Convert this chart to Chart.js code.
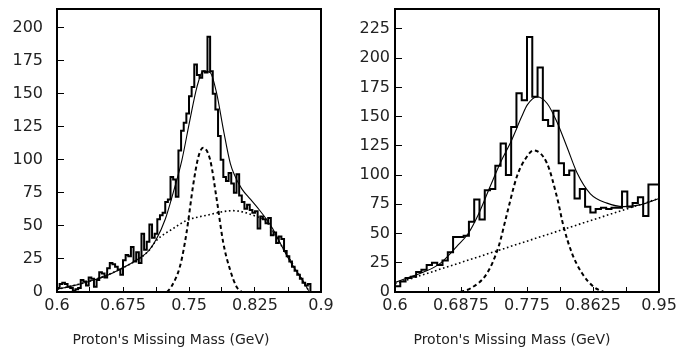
<!DOCTYPE html>
<html>
<head>
<meta charset="utf-8">
<script src="https://cdn.jsdelivr.net/npm/chart.js@4.4.0/dist/chart.umd.min.js"></script>
<style>
  html, body { margin: 0; padding: 0; background: #fff; }
  #wrap { position: relative; width: 694px; height: 351px; overflow: hidden; }
  .panel { position: absolute; top: 0; width: 347px; height: 351px; }
  .xtitle { position: absolute; top: 331px; font: 14px 'DejaVu Sans', sans-serif; color: #222; text-align: center; white-space: nowrap; }
</style>
</head>
<body>
<div id="wrap">
  <div class="panel" style="left:0"><canvas id="left" width="347" height="351"></canvas></div>
  <div class="panel" style="left:347px"><canvas id="right" width="347" height="351"></canvas></div>
  <div class="xtitle" style="left:0;width:342px">Proton's Missing Mass (GeV)</div>
  <div class="xtitle" style="left:347px;width:330px">Proton's Missing Mass (GeV)</div>
</div>
<script>
// ---- left panel data ----
const leftBinStart = 0.6;
const leftBinWidth = 0.003;
const leftCounts = [
  4, 3, 6, 7, 6, 4, 3, 1, 2, 3,
  9, 8, 5, 11, 10, 4, 9, 15, 14, 11,
  18, 22, 21, 19, 17, 13, 24, 28, 27, 34,
  23, 30, 22, 44, 32, 38, 51, 41, 44, 55,
  58, 60, 68, 70, 87, 85, 72, 107, 122, 128,
  135, 148, 155, 172, 164, 162, 167, 166, 193, 167,
  150, 138, 118, 100, 87, 84, 90, 82, 75, 89,
  73, 68, 63, 66, 62, 60, 61, 48, 57, 55,
  52, 56, 43, 45, 37, 42, 40, 31, 27, 23,
  19, 16, 13, 10, 7, 5, 6, 0, 0, 0
];
const leftFitX = [0.6, 0.62, 0.636, 0.655, 0.674, 0.69, 0.704, 0.713, 0.723, 0.732, 0.742, 0.751, 0.759, 0.766, 0.774, 0.7815, 0.789, 0.797, 0.802, 0.81, 0.82, 0.83, 0.838, 0.845, 0.856, 0.866, 0.876, 0.886];
const leftFitY = [2, 5, 8, 12, 18, 24, 31, 40, 55, 75, 100, 130, 155, 167, 166, 150, 123, 97, 88, 78, 70, 62, 55, 48, 34, 22, 12, 1];
const leftPeakX = [0.725, 0.73, 0.74, 0.747, 0.755, 0.7606, 0.766, 0.774, 0.7815, 0.789, 0.7966, 0.804, 0.81];
const leftPeakY = [0, 4, 20, 44, 82, 102, 109, 100, 70, 37, 17, 4, 0];
const leftBackX = [0.6, 0.636, 0.674, 0.704, 0.713, 0.732, 0.747, 0.77, 0.8, 0.827, 0.838, 0.856, 0.876, 0.886];
const leftBackY = [2, 8, 18, 31, 39, 48, 54, 58, 61.5, 57, 53, 34, 12, 1];
const leftXTicks = [0.6, 0.675, 0.75, 0.825, 0.9];
const leftXLabels = ['0.6', '0.675', '0.75', '0.825', '0.9'];
const leftYTicks = [0, 25, 50, 75, 100, 125, 150, 175, 200];

// ---- right panel data ----
const rightBinStart = 0.6;
const rightBinWidth = 0.007;
const rightCounts = [
  8, 5, 9, 12, 13, 17, 19, 23, 25, 23,
  27, 34, 47, 47, 48, 60, 79, 62, 87, 88,
  108, 127, 100, 141, 170, 164, 218, 167, 192, 147,
  142, 155, 110, 100, 104, 80, 88, 73, 68, 71,
  72, 71, 72, 72, 86, 73, 76, 81, 65, 92
];
const rightFitX = [0.6, 0.616, 0.638, 0.66, 0.682, 0.697, 0.711, 0.726, 0.74, 0.754, 0.768, 0.7754, 0.7887, 0.802, 0.815, 0.828, 0.8413, 0.859, 0.881, 0.903, 0.925, 0.95];
const rightFitY = [8, 12, 17, 24.5, 39, 50, 67, 90, 111, 129, 150, 160, 167, 161, 145, 124, 102, 84, 76, 73, 74.5, 80];
const rightPeakX = [0.6866, 0.6998, 0.722, 0.7374, 0.7485, 0.7617, 0.773, 0.7838, 0.8015, 0.8148, 0.8235, 0.8347, 0.848, 0.8633, 0.8766];
const rightPeakY = [0, 3, 16, 39, 67, 99, 114, 121, 110, 81, 56, 33, 16, 4.5, 0];
const rightBackX = [0.6, 0.95];
const rightBackY = [7, 80];
const rightXTicks = [0.6, 0.6875, 0.775, 0.8625, 0.95];
const rightXLabels = ['0.6', '0.6875', '0.775', '0.8625', '0.95'];
const rightYTicks = [0, 25, 50, 75, 100, 125, 150, 175, 200, 225];

Chart.defaults.font.family = "'DejaVu Sans', sans-serif";
Chart.defaults.color = '#222';

function histPoints(start, width, counts) {
  const pts = counts.map((c, i) => ({ x: start + i * width, y: c }));
  pts.push({ x: start + counts.length * width, y: counts[counts.length - 1] });
  return pts;
}

function zip(xs, ys) {
  return xs.map((x, i) => ({ x: x, y: ys[i] }));
}

// major ticks plus the half-way minor ticks between them
function withMinor(majors) {
  const out = [];
  majors.forEach((v, i) => {
    out.push(v);
    if (i < majors.length - 1) out.push((v + majors[i + 1]) / 2);
  });
  return out;
}

const boxPlugin = {
  id: 'box',
  afterDatasetsDraw(chart) {
    const { ctx, chartArea: a } = chart;
    ctx.save();
    ctx.lineWidth = 2;
    ctx.strokeStyle = '#000';
    ctx.strokeRect(a.left, a.top, a.right - a.left, a.bottom - a.top);
    ctx.restore();
  }
};

function makePanel(id, p) {
  return new Chart(document.getElementById(id), {
    type: 'line',
    data: {
      datasets: [
        { data: histPoints(p.binStart, p.binWidth, p.counts), stepped: 'after', borderColor: '#000', borderWidth: 2, pointRadius: 0 },
        { data: zip(p.fitX, p.fitY), borderColor: '#000', borderWidth: 1.1, pointRadius: 0, cubicInterpolationMode: 'monotone' },
        { data: zip(p.peakX, p.peakY), borderColor: '#000', borderWidth: 2, borderDash: [4, 3], pointRadius: 0, cubicInterpolationMode: 'monotone' },
        { data: zip(p.backX, p.backY), borderColor: '#000', borderWidth: 1.6, borderDash: [1.6, 2.6], pointRadius: 0, cubicInterpolationMode: 'monotone' }
      ]
    },
    options: {
      responsive: false,
      animation: false,
      layout: { padding: { top: 9, right: p.padRight, left: 0, bottom: 0 } },
      plugins: { legend: { display: false }, tooltip: { enabled: false } },
      scales: {
        x: {
          type: 'linear',
          min: p.xTicks[0],
          max: p.xTicks[p.xTicks.length - 1],
          border: { display: false },
          grid: { drawOnChartArea: false, drawTicks: true, tickLength: -5, color: '#000', lineWidth: 1 },
          afterBuildTicks: s => { s.ticks = withMinor(p.xTicks).map(v => ({ value: v })); },
          afterFit: s => { s.height = 59; s.paddingLeft = 0; s.paddingRight = 0; },
          ticks: {
            autoSkip: false,
            maxRotation: 0,
            padding: 9,
            font: { size: 16 },
            callback: v => {
              const i = p.xTicks.findIndex(t => Math.abs(t - v) < 1e-9);
              return i >= 0 ? p.xLabels[i] : '';
            }
          }
        },
        y: {
          type: 'linear',
          min: 0,
          max: p.yMax,
          border: { display: false },
          grid: { drawOnChartArea: false, drawTicks: true, tickLength: -7, color: '#000', lineWidth: 1 },
          afterBuildTicks: s => { s.ticks = p.yTicks.map(v => ({ value: v })); },
          afterFit: s => { s.width = p.axisLeft; s.paddingTop = 0; s.paddingBottom = 0; },
          ticks: { padding: p.yPad, font: { size: 16 } }
        }
      }
    },
    plugins: [boxPlugin]
  });
}

makePanel('left', {
  binStart: leftBinStart, binWidth: leftBinWidth, counts: leftCounts,
  fitX: leftFitX, fitY: leftFitY, peakX: leftPeakX, peakY: leftPeakY, backX: leftBackX, backY: leftBackY,
  xTicks: leftXTicks, xLabels: leftXLabels, yTicks: leftYTicks, yMax: 214,
  axisLeft: 57, padRight: 26, yPad: 21
});

makePanel('right', {
  binStart: rightBinStart, binWidth: rightBinWidth, counts: rightCounts,
  fitX: rightFitX, fitY: rightFitY, peakX: rightPeakX, peakY: rightPeakY, backX: rightBackX, backY: rightBackY,
  xTicks: rightXTicks, xLabels: rightXLabels, yTicks: rightYTicks, yMax: 242,
  axisLeft: 48, padRight: 35, yPad: 12
});
</script>
</body>
</html>
